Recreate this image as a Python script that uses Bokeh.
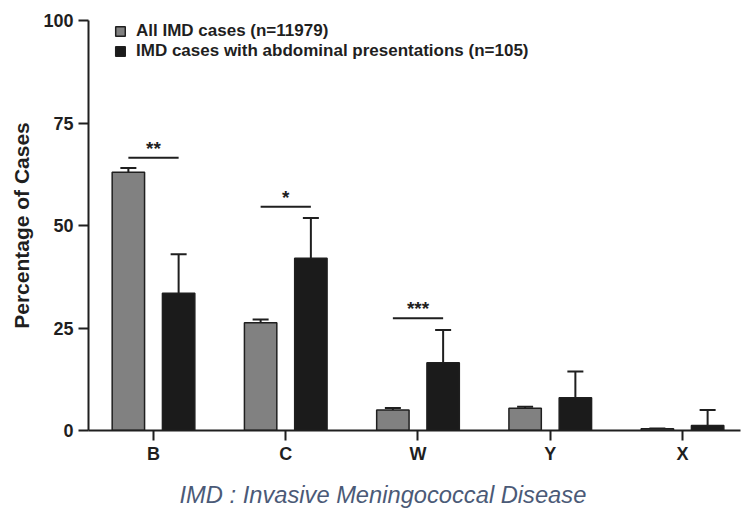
from bokeh.plotting import figure
from bokeh.models import (ColumnDataSource, Whisker, TeeHead, Range1d, FixedTicker,
                          Legend, LegendItem, Title)
from bokeh.core.properties import value
from bokeh.embed import file_html
from bokeh.resources import INLINE

categories = ["B", "C", "W", "Y", "X"]
all_imd = [63.0, 26.3, 5.0, 5.4, 0.4]
all_imd_err = [1.0, 0.8, 0.5, 0.4, 0.1]
abdominal = [33.5, 42.0, 16.5, 8.0, 1.2]
abdominal_err = [9.5, 9.8, 8.0, 6.4, 3.8]
sig_index = [0, 1, 2]
sig_labels = ["**", "*", "***"]
sig_heights = [66.5, 54.6, 27.4]
y_ticks = [0, 25, 50, 75, 100]

FONT = "Liberation Sans"
INK = "#1f1f1f"
GRAY = "#818181"
BLACK = "#1b1b1b"

xpos = list(range(len(categories)))
off = 0.19
bw = 0.245

src_all = ColumnDataSource(dict(
    x=[i - off for i in xpos], top=all_imd,
    lo=[v - e for v, e in zip(all_imd, all_imd_err)],
    hi=[v + e for v, e in zip(all_imd, all_imd_err)]))
src_abd = ColumnDataSource(dict(
    x=[i + off for i in xpos], top=abdominal,
    lo=abdominal,
    hi=[v + e for v, e in zip(abdominal, abdominal_err)]))
src_sig = ColumnDataSource(dict(
    x0=[i - off for i in sig_index], x1=[i + off for i in sig_index],
    xc=sig_index, y=sig_heights, t=sig_labels))

p = figure(width=742, height=508, output_backend="svg", toolbar_location=None,
           x_range=Range1d(-0.4915, 4.4386), y_range=Range1d(0, 100),
           min_border_left=88, min_border_right=2, min_border_top=20,
           min_border_bottom=78, background_fill_color="white",
           border_fill_color="white")
p.xgrid.visible = False
p.ygrid.visible = False
p.outline_line_color = None

w1 = Whisker(source=src_all, base="x", lower="lo", upper="hi", dimension="height",
             line_color=INK, line_width=2,
             upper_head=TeeHead(size=16, line_width=2, line_color=INK),
             lower_head=TeeHead(size=16, line_width=2, line_color=INK))
w2 = Whisker(source=src_abd, base="x", lower="lo", upper="hi", dimension="height",
             line_color=INK, line_width=2,
             upper_head=TeeHead(size=16, line_width=2, line_color=INK),
             lower_head=None)

r1 = p.vbar(x="x", top="top", width=bw, bottom=0, source=src_all,
            fill_color=GRAY, line_color=INK, line_width=1.5)
r2 = p.vbar(x="x", top="top", width=bw, bottom=0, source=src_abd,
            fill_color=BLACK, line_color=INK, line_width=1.5)
p.add_layout(w1)
p.add_layout(w2)

p.segment(x0="x0", x1="x1", y0="y", y1="y", source=src_sig,
          line_color=INK, line_width=2)
p.text(x="xc", y="y", text="t", source=src_sig, text_align="center",
       text_baseline="bottom", y_offset=1, text_font=value(FONT),
       text_font_style="bold", text_font_size="19px", text_color=INK)

p.xaxis.ticker = FixedTicker(ticks=xpos)
p.xaxis.major_label_overrides = {i: c for i, c in zip(xpos, categories)}
p.yaxis.ticker = FixedTicker(ticks=y_ticks)
for ax in (p.xaxis[0], p.yaxis[0]):
    ax.axis_line_width = 2
    ax.axis_line_color = INK
    ax.major_tick_line_width = 2
    ax.major_tick_line_color = INK
    ax.major_tick_out = 10
    ax.major_tick_in = 0
    ax.minor_tick_line_color = None
    ax.major_label_text_font = FONT
    ax.major_label_text_font_style = "bold"
    ax.major_label_text_font_size = "18px"
    ax.major_label_text_color = INK
p.xaxis.major_label_standoff = 3
p.yaxis.major_label_standoff = 5
p.yaxis.axis_label = "Percentage of Cases"
p.yaxis.axis_label_text_font = FONT
p.yaxis.axis_label_text_font_style = "bold"
p.yaxis.axis_label_text_font_size = "21px"
p.yaxis.axis_label_text_color = INK
p.yaxis.axis_label_standoff = 7

legend = Legend(items=[
    LegendItem(label="All IMD cases (n=11979)", renderers=[r1]),
    LegendItem(label="IMD cases with abdominal presentations (n=105)", renderers=[r2])],
    location=(26, 369), padding=0, margin=0, spacing=-2,
    label_height=19, glyph_height=12, glyph_width=12, label_standoff=10,
    background_fill_alpha=0, border_line_color=None,
    label_text_font=FONT, label_text_font_style="bold",
    label_text_font_size="17px", label_text_color=INK)
p.add_layout(legend)

caption = Title(text="IMD : Invasive Meningococcal Disease", align="left", offset=91,
                text_font=FONT, text_font_style="italic", text_font_size="23.7px",
                text_color="#4b5a77", standoff=2, vertical_align="bottom",
                padding=dict(left=0, right=0, top=12, bottom=0))
p.add_layout(caption, "below")

open("out.html", "w").write(file_html(p, INLINE))
